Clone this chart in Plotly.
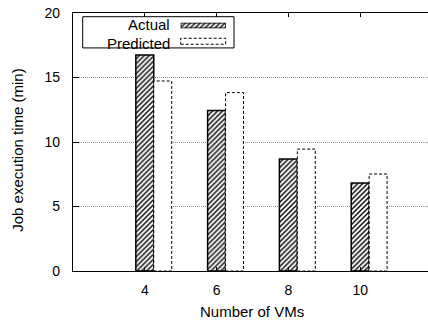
import plotly.graph_objects as go

vms = [4, 6, 8, 10]
actual = [16.75, 12.44, 8.68, 6.82]
predicted = [14.73, 13.83, 9.45, 7.52]
y_ticks = [0, 5, 10, 15, 20]
series_names = ["Actual", "Predicted"]
x_title = "Number of VMs"
y_title = "Job execution time (min)"

W, H = 428, 322
L, T, R, B = 73, 13, 428, 271.5
FONT = "Liberation Sans, Arial, Helvetica, sans-serif"


def px(xp):
    return (xp - L) / (R - L)


def py(yp):
    return (B - yp) / (B - T)


bw = 0.5
x_act = [v for v in vms]
x_pred = [v + bw for v in vms]

hatch = dict(shape="/", fgcolor="black", bgcolor="white",
             size=3.5, solidity=0.4, fillmode="replace")

fig = go.Figure()
fig.add_trace(go.Bar(
    x=x_act, y=actual, width=bw, name=series_names[0],
    marker=dict(color="white", line=dict(color="black", width=1.5), pattern=hatch),
    showlegend=False,
))
fig.add_trace(go.Bar(
    x=x_pred, y=predicted, width=bw, name=series_names[1],
    marker=dict(color="white", line=dict(width=0)),
    showlegend=False,
))

shapes = []
for xv, yv in zip(x_pred, predicted):
    shapes.append(dict(type="rect", xref="x", yref="y",
                       x0=xv - bw / 2, x1=xv + bw / 2, y0=0, y1=yv,
                       line=dict(color="black", width=1, dash="3px,2px"),
                       fillcolor="rgba(0,0,0,0)", layer="above"))

# legend box
shapes.append(dict(type="rect", xref="paper", yref="paper",
                   x0=px(82.7), x1=px(234), y0=py(48), y1=py(16.7),
                   line=dict(color="black", width=1), fillcolor="white", layer="below"))
# predicted key
shapes.append(dict(type="rect", xref="paper", yref="paper",
                   x0=px(180.7), x1=px(225.7), y0=py(44.3), y1=py(38.3),
                   line=dict(color="black", width=1, dash="3px,2px"),
                   fillcolor="white", layer="above"))

# actual key as a patterned bar on an overlay axis
fig.add_trace(go.Bar(
    x=[0], y=[1], width=1, xaxis="x2", yaxis="y2", showlegend=False,
    marker=dict(color="white", line=dict(color="black", width=1.5), pattern=hatch),
))

annotations = [
    dict(text=series_names[0], xref="paper", yref="paper", x=px(171), y=py(34.3),
         xanchor="right", yanchor="bottom", showarrow=False, borderpad=0,
         font=dict(family=FONT, size=15, color="black")),
    dict(text=series_names[1], xref="paper", yref="paper", x=px(171), y=py(34.3),
         xanchor="right", yanchor="top", showarrow=False, borderpad=0,
         font=dict(family=FONT, size=15, color="black")),
    dict(text=x_title, xref="paper", yref="paper", x=px(251.5), y=py(312),
         xanchor="center", yanchor="middle", showarrow=False,
         font=dict(family=FONT, size=15, color="black")),
    dict(text=y_title, xref="paper", yref="paper", x=px(18), y=py(151),
         xanchor="center", yanchor="middle", showarrow=False, textangle=-90,
         font=dict(family=FONT, size=15, color="black")),
]

fig.update_layout(
    width=W, height=H,
    margin=dict(l=L, t=T, r=W - R, b=H - B, pad=0),
    paper_bgcolor="white", plot_bgcolor="white",
    barmode="overlay", showlegend=False,
    font=dict(family=FONT, size=14, color="black"),
    shapes=shapes, annotations=annotations,
    xaxis=dict(range=[2, 11.89], tickvals=vms, ticktext=[str(v) for v in vms],
               showline=True, linecolor="black", linewidth=1.3, mirror="ticks",
               ticks="inside", ticklen=4, tickcolor="black", showgrid=False,
               zeroline=False, ticklabelstandoff=6,
               tickfont=dict(family=FONT, size=14, color="black")),
    yaxis=dict(range=[0, 20], tickvals=y_ticks, showline=True, linecolor="black",
               linewidth=1.3, mirror=False, ticks="inside", ticklen=6,
               tickcolor="black", showgrid=True, gridcolor="#909090",
               griddash="1px,1px", gridwidth=1, zeroline=False,
               ticklabelstandoff=9,
               tickfont=dict(family=FONT, size=14, color="black")),
    xaxis2=dict(domain=[px(180.7), px(225.7)], range=[-0.5, 0.5], visible=False,
                anchor="y2", fixedrange=True),
    yaxis2=dict(domain=[py(28.3), py(22.7)], range=[0, 1], visible=False,
                anchor="x2", fixedrange=True),
)

fig.write_html("out.html", config={"displayModeBar": False},
               post_script="document.body.style.margin='0';document.body.style.padding='0';")
